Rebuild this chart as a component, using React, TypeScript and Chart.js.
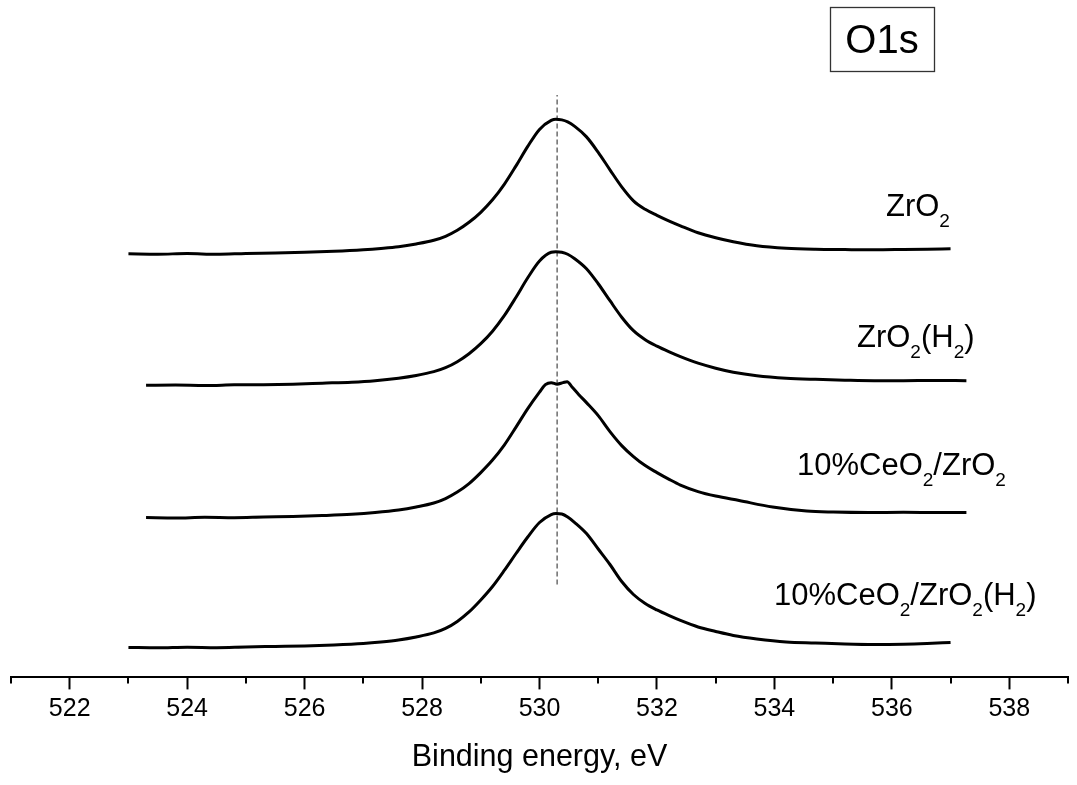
import React, { useEffect, useRef } from 'react';
import { Chart, registerables } from 'chart.js';

Chart.register(...registerables);

const FONT = '"Liberation Sans", Arial, Helvetica, sans-serif';

// Series names ("_2" marks a subscript digit)
const seriesNames = ['ZrO_2', 'ZrO_2(H_2)', '10%CeO_2/ZrO_2', '10%CeO_2/ZrO_2(H_2)'];

// Binding energy (eV) and intensity (a.u., stacked with vertical offset) for each spectrum
const be1 = [523.0, 523.5, 524.0, 524.5, 525.0, 525.5, 526.0, 526.5, 527.0, 527.3, 527.6, 527.9, 528.2, 528.4, 528.6, 528.8, 529.0, 529.2, 529.4, 529.6, 529.8, 530.0, 530.2, 530.28, 530.38, 530.48, 530.6, 530.8, 531.0, 531.2, 531.4, 531.6, 531.8, 532.0, 532.2, 532.4, 532.7, 533.0, 533.3, 533.7, 534.2, 534.7, 535.2, 535.7, 536.2, 536.6, 537.0];
const int1 = [424, 423.6, 424.2, 423.5, 424.3, 424.8, 425.5, 426.5, 428, 429.3, 431, 433.8, 437.5, 441.5, 447.5, 455.5, 465.5, 478, 493.5, 512, 531.5, 548.5, 557.5, 558.7, 558, 556, 551.5, 541, 525.5, 508, 491, 477, 468.5, 462.5, 457, 452, 445, 440, 436, 432, 429.5, 428.5, 428.2, 428, 428.3, 428.6, 429];

const be2 = [523.3, 523.8, 524.3, 524.8, 525.3, 525.8, 526.3, 526.8, 527.2, 527.6, 527.9, 528.2, 528.4, 528.6, 528.8, 529.0, 529.2, 529.4, 529.6, 529.8, 530.0, 530.2, 530.28, 530.38, 530.48, 530.6, 530.8, 531.0, 531.2, 531.4, 531.6, 531.8, 532.0, 532.2, 532.4, 532.7, 533.0, 533.3, 533.7, 534.2, 534.7, 535.2, 535.7, 536.2, 536.7, 537.27];
const int2 = [292.3, 292.6, 292.2, 292.8, 293, 293.5, 294.5, 295.5, 297, 299.5, 302.2, 306, 310, 316, 324, 334, 346.5, 362, 380.5, 400, 416.8, 425.5, 426, 425.5, 423.5, 419, 409, 394, 377, 360.5, 347, 338, 331.5, 326, 321, 314.5, 309.5, 305.5, 302, 299.5, 298.3, 297.5, 297, 297, 297.2, 297];

const be3 = [523.3, 523.8, 524.3, 524.8, 525.3, 525.8, 526.3, 526.8, 527.2, 527.6, 527.9, 528.2, 528.4, 528.6, 528.8, 529.0, 529.2, 529.4, 529.6, 529.8, 530.0, 530.1, 530.2, 530.3, 530.4, 530.47, 530.55, 530.67, 530.8, 531.0, 531.2, 531.4, 531.6, 531.8, 532.0, 532.2, 532.4, 532.7, 533.0, 533.4, 533.97, 534.55, 535.0, 535.6, 536.2, 536.8, 537.27];
const int3 = [160, 159.6, 160.2, 159.8, 160.5, 161, 162, 163.3, 165, 167.5, 170.5, 174.5, 179, 185.5, 194, 205, 217.5, 232.5, 250.5, 269, 285.5, 293, 295, 293.5, 295, 296, 291, 283, 275, 262, 246, 232, 221, 212, 205, 198.5, 192.5, 186, 181.5, 177, 170.5, 166.5, 165.5, 165, 165.3, 165, 165];

const be4 = [523.0, 523.5, 524.0, 524.5, 525.0, 525.5, 526.0, 526.5, 527.0, 527.3, 527.6, 527.9, 528.2, 528.4, 528.6, 528.8, 529.0, 529.2, 529.4, 529.6, 529.8, 530.0, 530.2, 530.28, 530.38, 530.48, 530.6, 530.8, 531.0, 531.2, 531.4, 531.6, 531.8, 532.0, 532.2, 532.4, 532.7, 533.0, 533.3, 533.7, 534.2, 534.7, 535.2, 535.7, 536.2, 536.6, 537.0];
const int4 = [30, 29.6, 30.2, 29.8, 30.5, 31, 31.5, 32.5, 34, 35.5, 37.5, 40.5, 44.5, 49, 56, 65.5, 77.5, 91, 107, 124, 140.5, 155, 163, 164, 163.5, 160.5, 155, 144, 128.5, 113, 96, 83, 74, 67.5, 62, 57, 50.5, 46, 42, 38.5, 35.5, 34.5, 33.5, 33, 33.3, 34, 35];

const spectraBE = [be1, be2, be3, be4];
const spectraInt = [int1, int2, int3, int4];

// Reference (dashed) line at the O1s peak position
const refLineBE = 530.3;
const refLineInt = [93, 583];

// Axis
const xMin = 521;
const xMax = 539;
const xTickLabels = ['522', '524', '526', '528', '530', '532', '534', '536', '538'];
const xTitle = 'Binding energy, eV';
const panelTitle = 'O1s';

function drawRich(ctx: CanvasRenderingContext2D, text: string, x: number, y: number, size: number, subSize: number, drop: number) {
  const parts = text.split(/(_\d)/).filter((p) => p.length > 0);
  let cx = x;
  ctx.textBaseline = 'alphabetic';
  ctx.textAlign = 'left';
  for (const p of parts) {
    if (p.startsWith('_')) {
      ctx.font = `${subSize}px ${FONT}`;
      const t = p.slice(1);
      ctx.fillText(t, cx, y + drop);
      cx += ctx.measureText(t).width;
    } else {
      ctx.font = `${size}px ${FONT}`;
      ctx.fillText(p, cx, y);
      cx += ctx.measureText(p).width;
    }
  }
}

const labelPos = [
  { x: 886, y: 216 },
  { x: 857, y: 347 },
  { x: 797, y: 475 },
  { x: 774, y: 605 },
];

const annotationsPlugin = {
  id: 'annotations',
  afterDraw(chart: any) {
    const ctx: CanvasRenderingContext2D = chart.ctx;
    const xs = chart.scales.x;
    ctx.save();
    // minor ticks
    ctx.strokeStyle = '#000';
    ctx.lineWidth = 2;
    for (let v = xMin; v <= xMax; v += 1) {
      if (xTickLabels.includes(String(v))) continue;
      const px = Math.round(xs.getPixelForValue(v));
      ctx.beginPath();
      ctx.moveTo(px, xs.top);
      ctx.lineTo(px, xs.top + 6);
      ctx.stroke();
    }
    // series labels
    ctx.fillStyle = '#000';
    seriesNames.forEach((name, i) => {
      drawRich(ctx, name, labelPos[i].x, labelPos[i].y, 31, 19, 11);
    });
    // panel title box
    ctx.strokeStyle = '#333';
    ctx.lineWidth = 1.3;
    ctx.strokeRect(830.5, 7.5, 104, 64);
    ctx.font = `40px ${FONT}`;
    ctx.textAlign = 'center';
    ctx.textBaseline = 'alphabetic';
    ctx.fillText(panelTitle, 882, 53);
    ctx.restore();
  },
};

export default function App() {
  const canvasRef = useRef<HTMLCanvasElement | null>(null);

  useEffect(() => {
    if (!canvasRef.current) return;
    const datasets: any[] = spectraBE.map((bes, i) => ({
      label: seriesNames[i],
      data: bes.map((b, j) => ({ x: b, y: spectraInt[i][j] })),
      borderColor: '#000',
      borderWidth: 3,
      pointRadius: 0,
      cubicInterpolationMode: 'monotone',
      fill: false,
    }));
    datasets.push({
      label: 'ref',
      data: refLineInt.map((v) => ({ x: refLineBE, y: v })),
      borderColor: '#555',
      borderWidth: 1.3,
      borderDash: [5, 3],
      pointRadius: 0,
      fill: false,
    });

    const chart = new Chart(canvasRef.current, {
      type: 'line',
      data: { datasets },
      options: {
        animation: false,
        responsive: false,
        devicePixelRatio: 1,
        layout: { padding: { left: 11, right: 9, top: 0, bottom: 9 } },
        plugins: { legend: { display: false }, tooltip: { enabled: false } },
        scales: {
          x: {
            type: 'linear',
            min: xMin,
            max: xMax,
            border: { display: true, color: '#000', width: 2 },
            grid: {
              display: true,
              drawOnChartArea: false,
              drawTicks: true,
              tickLength: 12,
              tickWidth: 2,
              tickColor: (c: any) => (c.tick && xTickLabels.includes(String(c.tick.value)) ? '#000' : 'rgba(0,0,0,0)'),
            },
            ticks: {
              stepSize: 1,
              autoSkip: false,
              maxRotation: 0,
              padding: 5,
              color: '#000',
              font: { family: FONT, size: 25 },
              callback: (v: any) => (xTickLabels.includes(String(v)) ? String(v) : ''),
            },
            title: {
              display: true,
              text: xTitle,
              color: '#000',
              font: { family: FONT, size: 30.5 },
              padding: { top: 10, bottom: 0 },
            },
          },
          y: { display: false, min: 0, max: 678 },
        },
      },
      plugins: [annotationsPlugin],
    });
    return () => chart.destroy();
  }, []);

  return (
    <div style={{ position: 'absolute', left: 0, top: 0, width: 1077, height: 785, background: '#fff' }}>
      <canvas ref={canvasRef} width={1077} height={785} style={{ display: 'block' }} />
    </div>
  );
}
